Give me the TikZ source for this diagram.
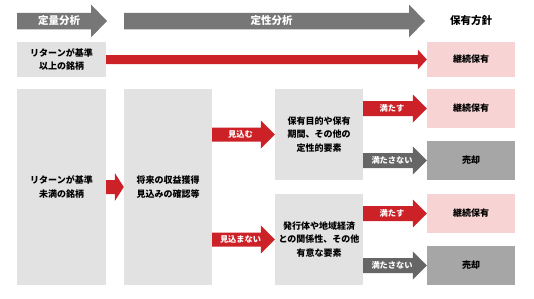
\documentclass[tikz,border=0pt]{standalone}
\usepackage{fontspec}
\newfontfamily\jpfont{Noto Sans CJK JP}
\usetikzlibrary{calc}

\definecolor{grisclair}{HTML}{E2E2E2}
\definecolor{grisvente}{HTML}{A6A6A6}
\definecolor{grisfonce}{HTML}{666666}
\definecolor{grisbandeau}{HTML}{777777}
\definecolor{rose}{HTML}{F8D3D3}
\definecolor{rouge}{HTML}{CC2127}

\tikzset{
  boite/.style={fill=grisclair, minimum width=88pt, inner sep=0pt, align=center,
    font=\jpfont\bfseries\fontsize{9}{13.5}\selectfont},
  garder/.style={boite, fill=rose},
  vendre/.style={boite, fill=grisvente},
  fleche rouge/.style={fill=rouge, font=\jpfont\bfseries\fontsize{8.2}{10}\selectfont},
  fleche grise/.style={fill=grisfonce, font=\jpfont\bfseries\fontsize{8.2}{10}\selectfont},
  bandeau/.style={fill=grisbandeau, font=\jpfont\bfseries\fontsize{10.5}{12}\selectfont},
  etiquette/.style={text=white, inner sep=0pt}
}

% fleche pleine : style, depart, arrivee, demi-corps, demi-tete, tete, nom, texte
\newcommand\flechebloc[8]{%
  \fill[#1] let \p1=(#2), \p2=(#3) in
    (\x1,\y1+#4) -- (\x2-#6,\y1+#4) -- (\x2-#6,\y1+#5) -- (\x2,\y1)
    -- (\x2-#6,\y1-#5) -- (\x2-#6,\y1-#4) -- (\x1,\y1-#4) -- cycle
    ({(\x1+\x2)/2-3pt},\y1) node[etiquette] (#7) {#8};}

\begin{document}
\begin{tikzpicture}[x=1pt, y=-1pt]
  \useasboundingbox (0,0) rectangle (534,298);

  % Bandeaux
  \coordinate (q0) at (17,21);
  \coordinate (q1) at (107,21);
  \coordinate (s0) at (124,21);
  \coordinate (s1) at (425,21);
  \flechebloc{bandeau}{q0}{q1}{8.25pt}{16.5pt}{16pt}{quant}{定量分析}
  \flechebloc{bandeau}{s0}{s1}{8.25pt}{16.5pt}{16pt}{qual}{定性分析}
  \node[font=\jpfont\bfseries\fontsize{10.5}{12}\selectfont] (politique) at (471,21) {保有方針};

  % Premiere ligne
  \node[boite, minimum width=89pt, minimum height=35pt] (haut) at (61.5,59.5) {リターンが基準\\以上の銘柄};
  \node[garder, minimum height=35pt] (garde0) at (471,59.5) {継続保有};
  \flechebloc{fill=rouge}{haut.east |- garde0.west}{garde0.west}{4.5pt}{10pt}{9pt}{f0}{}

  % Colonnes
  \node[boite, minimum width=89pt, minimum height=196pt] (bas) at (61.5,187) {リターンが基準\\未満の銘柄};
  \node[boite, minimum height=196pt] (revenu) at (168,187) {将来の収益獲得\\見込みの確認等};
  \node[boite, minimum height=91pt] (qualit) at (319,134.5) {保有目的や保有\\期間、その他の\\定性的要素};
  \node[boite, minimum height=91pt] (lien) at (319,239.5) {発行体や地域経済\\との関係性、その他\\有意な要素};

  % Decisions
  \node[garder, minimum height=39pt] (garde1) at (471,108.5) {継続保有};
  \node[vendre, minimum height=39pt] (vente1) at (471,160.5) {売却};
  \node[garder, minimum height=39pt] (garde2) at (471,213.5) {継続保有};
  \node[vendre, minimum height=39pt] (vente2) at (471,265.5) {売却};

  % Fleches
  \flechebloc{fill=rouge}{bas.east |- revenu.west}{revenu.west}{7pt}{14pt}{9pt}{f1}{}
  \flechebloc{fleche rouge}{revenu.east |- qualit.west}{qualit.west}{7pt}{14pt}{14pt}{oui}{見込む}
  \flechebloc{fleche rouge}{revenu.east |- lien.west}{lien.west}{7pt}{14pt}{14pt}{non}{見込まない}
  \flechebloc{fleche rouge}{qualit.east |- garde1.west}{garde1.west}{7.5pt}{14pt}{14pt}{ok1}{満たす}
  \flechebloc{fleche grise}{qualit.east |- vente1.west}{vente1.west}{7.5pt}{14pt}{14pt}{ko1}{満たさない}
  \flechebloc{fleche rouge}{lien.east |- garde2.west}{garde2.west}{7.5pt}{14pt}{14pt}{ok2}{満たす}
  \flechebloc{fleche grise}{lien.east |- vente2.west}{vente2.west}{7.5pt}{14pt}{14pt}{ko2}{満たさない}
\end{tikzpicture}
\end{document}
